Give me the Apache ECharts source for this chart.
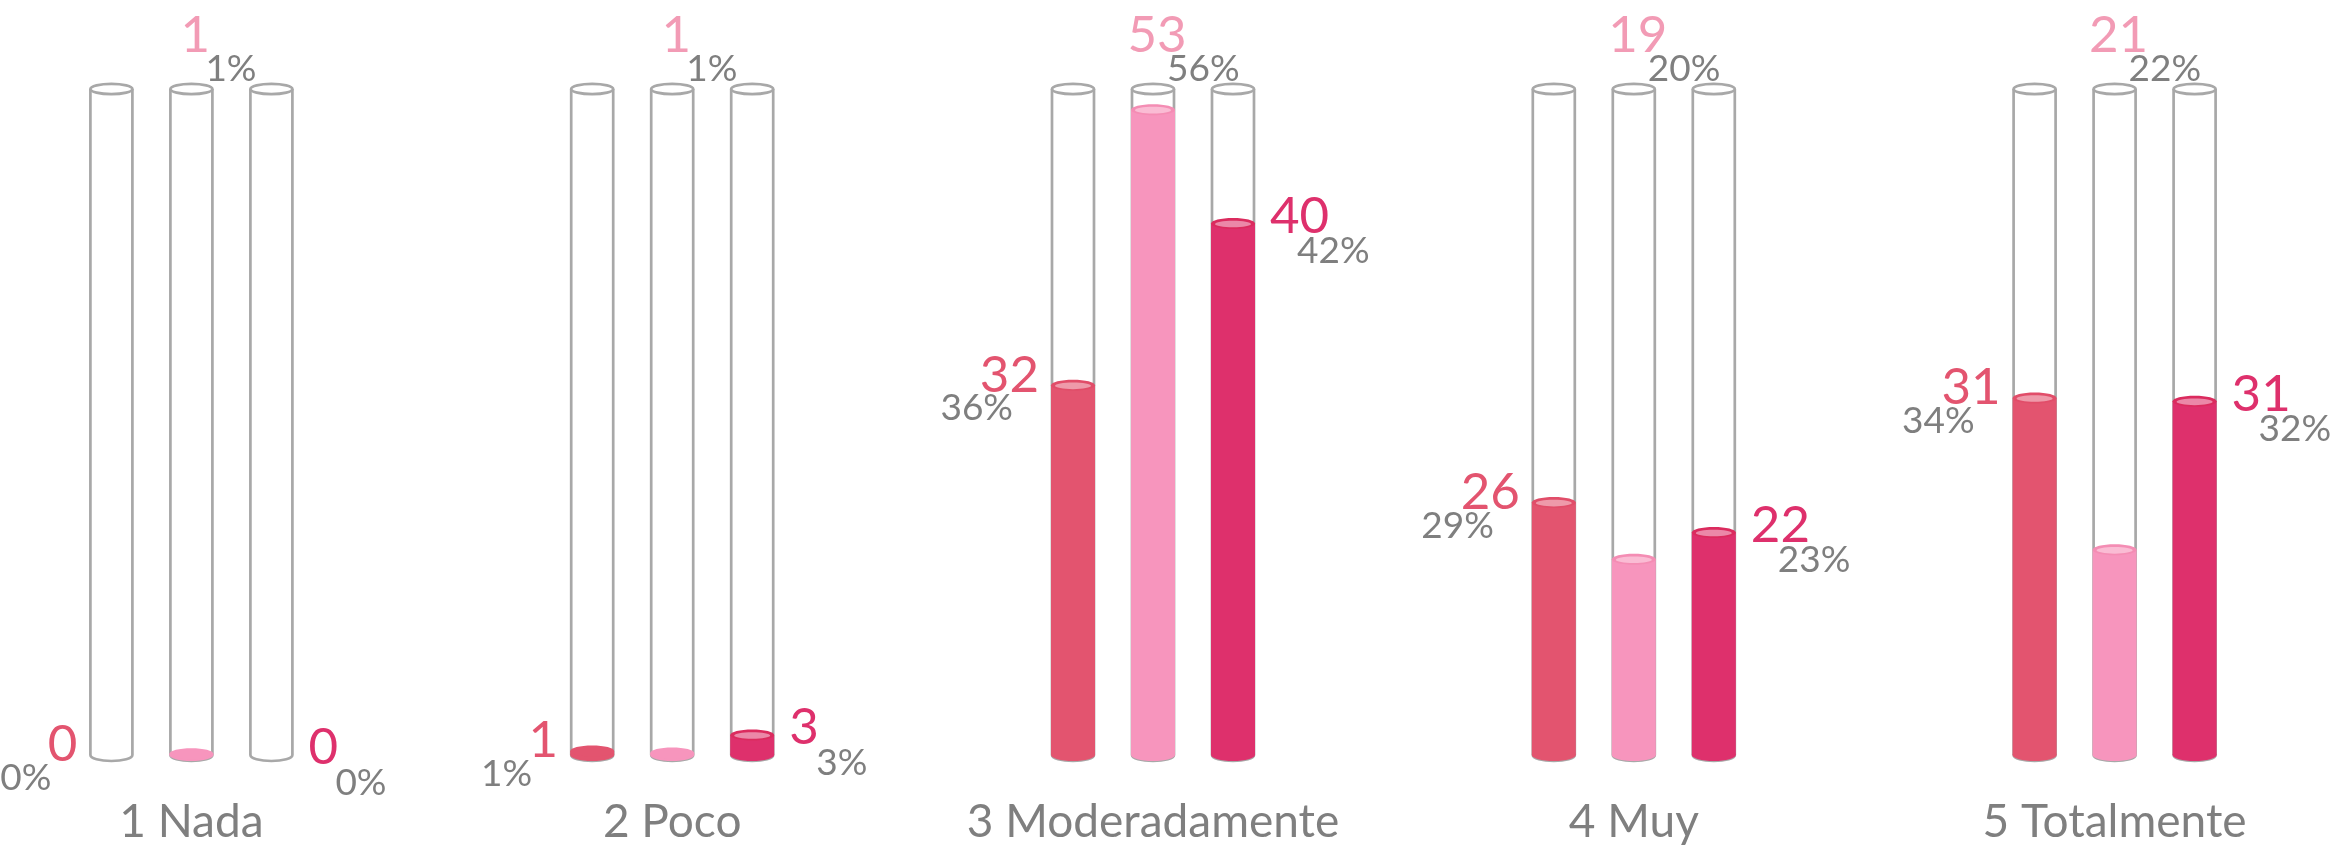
<!DOCTYPE html>
<html>
<head>
<meta charset="utf-8">
<script src="https://cdn.jsdelivr.net/npm/echarts@6/dist/echarts.min.js"></script>
<style>
html,body{margin:0;padding:0;background:#fff;overflow:hidden;width:2331px;height:845px;}
#chart{position:absolute;left:-49px;top:0;width:2404px;height:845px;}
</style>
</head>
<body>
<div id="chart"></div>
<script>
// ---- data ----
const categories = ['1 Nada', '2 Poco', '3 Moderadamente', '4 Muy', '5 Totalmente'];
const countA = [0, 1, 32, 26, 31];
const countB = [1, 1, 53, 19, 21];
const countC = [0, 3, 40, 22, 31];
const pctA = [0, 1, 36, 29, 34];
const pctB = [1, 1, 56, 20, 22];
const pctC = [0, 3, 42, 23, 32];
// fill level of each tube (0 = empty, 100 = full)
const levelA = [0, 0.6, 55.5, 37.9, 53.6];
const levelB = [0.2, 0.3, 96.9, 29.4, 30.8];
const levelC = [0, 3.0, 79.8, 33.4, 53.1];
const tubeMax = 100;

// ---- styling ----
const FONT = 'Lato, "DejaVu Sans", sans-serif';
const GREY = '#7F7F7F';
const TUBE = '#A8A8A8';
const SPACING = 80 / 480.8;   // bar spacing as fraction of category band
const HALF_TUBE = 21, HALF_FILL = 22;
const seriesStyles = [
  { fill: '#E3546F', rim: '#E14D69', inner: '#EE9AAA', text: '#E3546F', labelSide: 'left' },
  { fill: '#F795BD', rim: '#F48DB4', inner: '#FABCD4', text: '#F29BB5', labelSide: 'top' },
  { fill: '#DE306C', rim: '#DB2B5E', inner: '#EB88A8', text: '#DE306C', labelSide: 'right' }
];

function makeRender(k) {
  const st = seriesStyles[k];
  return function (params, api) {
    const ci = api.value(0);
    const lvl = api.value(1);
    const cnt = api.value(2);
    const pct = api.value(3);
    const base = api.coord([ci, 0]);
    const topPt = api.coord([ci, tubeMax]);
    const lvlPt = api.coord([ci, lvl]);
    const band = api.size([1, 0])[0];
    const cx = base[0] + (k - 1) * band * SPACING;
    const yb = base[1], yt = topPt[1], yl = lvlPt[1];
    const children = [];
    // tube
    const x1 = cx - HALF_TUBE, x2 = cx + HALF_TUBE;
    children.push({
      type: 'path',
      shape: { pathData: 'M' + x1 + ' ' + yt + ' L' + x1 + ' ' + yb + ' A' + HALF_TUBE + ' 6 0 0 0 ' + x2 + ' ' + yb + ' L' + x2 + ' ' + yt },
      style: { fill: null, stroke: TUBE, lineWidth: 2.7 }
    });
    children.push({
      type: 'ellipse',
      shape: { cx: cx, cy: yt, rx: HALF_TUBE, ry: 5.2 },
      style: { fill: '#fff', stroke: TUBE, lineWidth: 2.7 }
    });
    // liquid
    if (lvl > 0) {
      children.push({ type: 'ellipse', shape: { cx: cx, cy: yb, rx: HALF_FILL, ry: 6 }, style: { fill: st.fill } });
      children.push({ type: 'rect', shape: { x: cx - HALF_FILL, y: yl, width: HALF_FILL * 2, height: yb - yl }, style: { fill: st.fill } });
      children.push({ type: 'ellipse', shape: { cx: cx, cy: yl, rx: HALF_FILL, ry: 5.5 }, style: { fill: (yb - yl) > 10 ? st.rim : st.fill } });
      if ((yb - yl) > 10) {
        children.push({ type: 'ellipse', shape: { cx: cx, cy: yl + 0.5, rx: HALF_FILL - 4, ry: 3.3 }, style: { fill: st.inner } });
      }
    }
    // labels
    const cntStyle = { fontSize: 51, fontFamily: FONT, fill: st.text, verticalAlign: 'middle' };
    const pctStyle = { fontSize: 37, fontFamily: FONT, fill: GREY, verticalAlign: 'middle' };
    let cPos, pPos;
    if (st.labelSide === 'left') {
      const xr = cx - HALF_FILL - 12;
      cPos = { x: xr, y: yl - 10, align: 'right' };
      pPos = { x: xr - 26, y: yl + 23, align: 'right' };
    } else if (st.labelSide === 'right') {
      const xl = cx + HALF_FILL + 15;
      cPos = { x: xl, y: yl - 7, align: 'left' };
      pPos = { x: xl + 27, y: yl + 28, align: 'left' };
    } else {
      cPos = { x: cx + 4, y: yt - 53, align: 'center' };
      pPos = { x: cx + 14, y: yt - 20, align: 'left' };
    }
    children.push({ type: 'text', style: Object.assign({ text: String(cnt) }, cntStyle, cPos), z2: 10 });
    children.push({ type: 'text', style: Object.assign({ text: pct + '%' }, pctStyle, pPos), z2: 9 });
    return { type: 'group', children: children };
  };
}

function buildData(levels, counts, pcts) {
  return categories.map(function (c, i) { return [i, levels[i], counts[i], pcts[i]]; });
}

const chart = echarts.init(document.getElementById('chart'), null, { renderer: 'canvas' });
chart.setOption({
  animation: false,
  backgroundColor: '#fff',
  grid: { left: 0, right: 0, top: 89, bottom: 88, containLabel: false },
  xAxis: {
    type: 'category',
    data: categories,
    axisLine: { show: false },
    axisTick: { show: false },
    splitLine: { show: false },
    axisLabel: { fontSize: 46, fontFamily: FONT, color: GREY, margin: 44, interval: 0 }
  },
  yAxis: { type: 'value', min: 0, max: tubeMax, show: false },
  series: [
    { type: 'custom', name: 'A', renderItem: makeRender(0), data: buildData(levelA, countA, pctA), encode: { x: 0, y: 1 }, clip: false, silent: true },
    { type: 'custom', name: 'B', renderItem: makeRender(1), data: buildData(levelB, countB, pctB), encode: { x: 0, y: 1 }, clip: false, silent: true },
    { type: 'custom', name: 'C', renderItem: makeRender(2), data: buildData(levelC, countC, pctC), encode: { x: 0, y: 1 }, clip: false, silent: true }
  ]
});
</script>
</body>
</html>
